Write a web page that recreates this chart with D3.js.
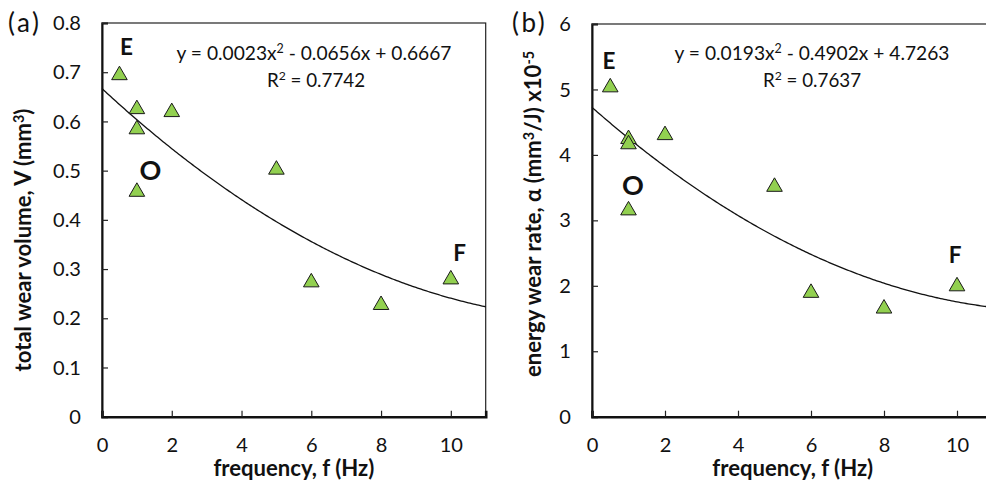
<!DOCTYPE html>
<html><head><meta charset="utf-8">
<script src="https://cdn.jsdelivr.net/npm/d3@7"></script>
<style>body{margin:0;background:#fff}svg{display:block}text{font-family:Lato,"Open Sans",sans-serif;fill:#111}</style>
</head><body><svg id="c" width="986" height="485"></svg>
<script>
const freq = [0.5, 1, 1, 1, 2, 5, 6, 8, 10];
const wearVolume = [0.695, 0.626, 0.585, 0.458, 0.62, 0.503, 0.274, 0.228, 0.28];
const energyWearRate = [5.04, 4.25, 4.17, 3.16, 4.31, 3.52, 1.9, 1.66, 2.0];
const fitA = [0.0023, -0.0656, 0.6667];
const fitB = [0.0193, -0.4902, 4.7263];
const xTicks = [0, 2, 4, 6, 8, 10];
const yTicksA = [0, 0.1, 0.2, 0.3, 0.4, 0.5, 0.6, 0.7, 0.8];
const yTicksB = [0, 1, 2, 3, 4, 5, 6];

const svg = d3.select("#c");

// scale a text element's font size so its width matches a target width
function fit(sel, target) {
  const fs = parseFloat(sel.style("font-size"));
  const w = sel.node().getBBox().width;
  const nf = fs * target / w;
  setFs(sel, nf);
  return nf;
}
function setFs(sel, nf) {
  sel.style("font-size", nf + "px");
  sel.selectAll("tspan.sup").style("font-size", (nf * 0.65) + "px");
}
const probe = svg.append("text").style("font-size", "16px").text("0.8");
const tickFs = fit(probe, 28);
probe.remove();
const probe2 = svg.append("text").style("font-size", "18px").style("font-weight", "bold").text("frequency, f (Hz)");
const titleFs = fit(probe2, 161);
probe2.remove();

function sup(t, base, s, dy) {
  t.append("tspan").attr("class", "sup").attr("dy", -dy).text(s);
  t.append("tspan").attr("dy", dy).text(base);
}

function panel(o) {
  const g = svg.append("g");
  const x = d3.scaleLinear().domain([0, 11]).range([o.left, o.right]);
  const y = d3.scaleLinear().domain(o.ydom).range([o.bottom, o.top]);
  g.append("rect").attr("x", o.left).attr("y", o.top).attr("width", o.right - o.left).attr("height", o.bottom - o.top)
    .attr("fill", "none").attr("stroke", "#222").attr("stroke-width", 1.2);
  const ya = g.append("g").attr("transform", `translate(${o.left},0)`)
    .call(d3.axisLeft(y).tickValues(o.yticks).tickSize(-6).tickPadding(21).tickFormat(o.yfmt));
  const xa = g.append("g").attr("transform", `translate(0,${o.bottom})`)
    .call(d3.axisBottom(x).tickValues(xTicks).tickSize(-6).tickPadding(0).tickFormat(d3.format("d")));
  [ya, xa].forEach(a => {
    a.select(".domain").attr("stroke", "#111");
    a.selectAll(".tick line").attr("stroke", "#222").attr("stroke-width", 1.2);
    a.selectAll(".tick text").style("font-size", tickFs + "px").attr("fill", "#111");
  });
  ya.select(".domain").attr("stroke-width", 2);
  xa.select(".domain").attr("stroke-width", 2.6);
  xa.selectAll(".tick text").attr("y", 35).attr("dy", null);
  ya.selectAll(".tick text").attr("dy", "0.33em");
  // trend line
  const xs = d3.range(0, 11.001, 0.05);
  const c = o.fit;
  g.append("path").datum(xs).attr("fill", "none").attr("stroke", "#111").attr("stroke-width", 1.3)
    .attr("d", d3.line().x(d => x(d)).y(d => y(c[0] * d * d + c[1] * d + c[2])));
  // markers
  const tri = "M0,-8.5L7.8,5L-7.8,5Z";
  g.selectAll(".m").data(freq.map((f, i) => [f, o.vals[i]])).join("path")
    .attr("transform", d => `translate(${x(d[0])},${y(d[1])})`).attr("d", tri)
    .attr("fill", "#92D050").attr("stroke", "#1a1a1a").attr("stroke-width", 1);
  // x title
  g.append("text").attr("x", (o.left + o.right) / 2).attr("y", 476).attr("text-anchor", "middle")
    .style("font-size", titleFs + "px").style("font-weight", "bold").text("frequency, f (Hz)");
  // y title
  const yl = g.append("text").attr("transform", `translate(${o.ylx},${o.yly}) rotate(-90)`)
    .attr("text-anchor", "middle").style("font-weight", "bold");
  o.ylab(yl);
  setFs(yl, titleFs);
  // panel label
  g.append("text").attr("x", o.pl[0]).attr("y", o.pl[1]).style("font-size", "26px").style("letter-spacing", "2.5px").text(o.plabel);
  o.letters.forEach(l => g.append("text").attr("x", l[1]).attr("y", l[2]).attr("text-anchor", "middle")
    .style("font-size", l[0] === "O" ? "27px" : "22.5px").style("font-weight", "bold").text(l[0]));
  // equation
  const eq = g.append("text").attr("x", o.eqx).attr("y", 60).attr("text-anchor", "middle").style("font-size", "18px");
  eq.append("tspan").text(`y = ${c[0]}x`);
  sup(eq, ` - ${Math.abs(c[1])}x + ${c[2]}`, "2", 7);
  fit(eq, 279);
  const r = g.append("text").attr("x", o.eqx + o.rdx).attr("y", 87).attr("text-anchor", "middle").style("font-size", "18px");
  r.append("tspan").text("R");
  sup(r, ` = ${o.r2}`, "2", 7);
  fit(r, 102);
}

panel({
  left: 102, right: 485.7, top: 23, bottom: 416.7, ydom: [0, 0.8], yticks: yTicksA,
  yfmt: d => d === 0 ? "0" : d3.format(".1f")(d), fit: fitA, vals: wearVolume, ylx: 31, yly: 240,
  ylab: t => { t.append("tspan").text("total wear volume, V (mm"); sup(t, ")", "3", 7); },
  pl: [8, 32], plabel: "(a)", letters: [["E", 126.5, 55], ["O", 150.5, 180], ["F", 459.5, 261]],
  eqx: 314, rdx: 2, r2: "0.7742"
});
panel({
  left: 592, right: 993.5, top: 24, bottom: 416.7, ydom: [0, 6], yticks: yTicksB,
  yfmt: d3.format("d"), fit: fitB, vals: energyWearRate, ylx: 541, yly: 214,
  ylab: t => { t.append("tspan").text("energy wear rate, α (mm"); sup(t, "/J) x10", "3", 7); t.append("tspan").attr("class", "sup").attr("dy", -7).text("-5"); },
  pl: [512, 32], plabel: "(b)", letters: [["E", 609, 69], ["O", 633, 195], ["F", 955, 263]],
  eqx: 812, rdx: 0, r2: "0.7637"
});
</script></body></html>
